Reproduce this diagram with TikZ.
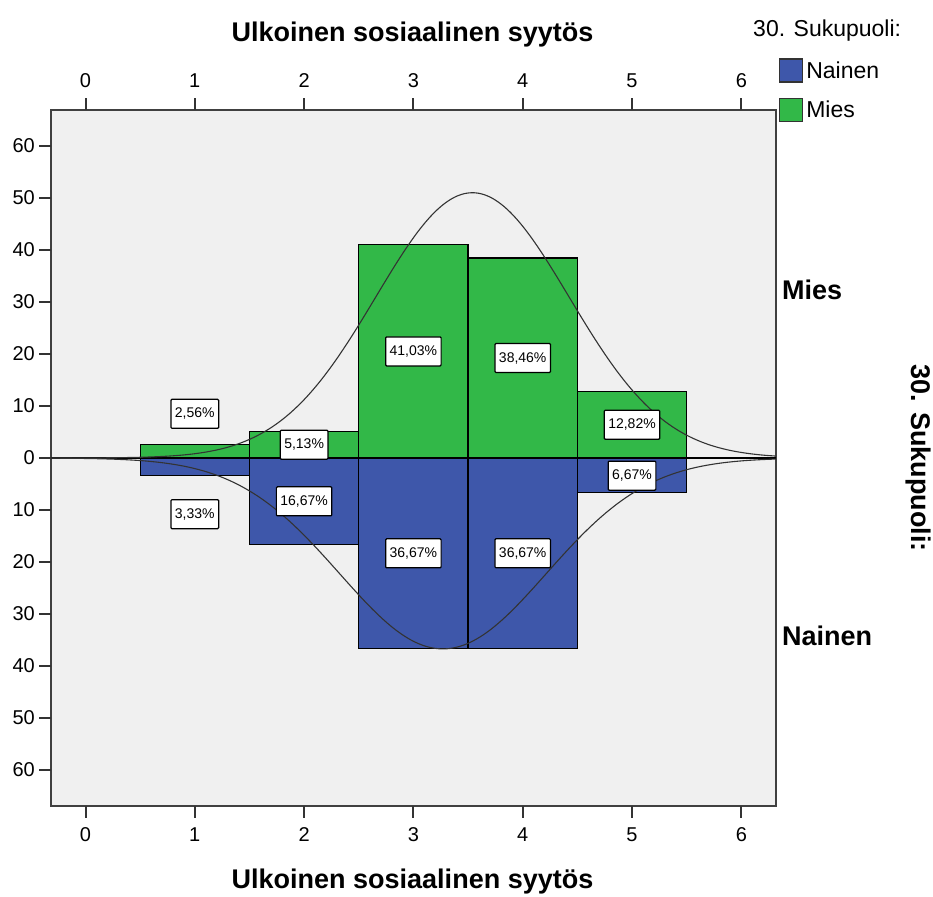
\documentclass[tikz,border=0pt]{standalone}
\usepackage{fontspec}
\setmainfont{Liberation Sans}
\usetikzlibrary{positioning}
\definecolor{miesgreen}{RGB}{50,184,72}
\definecolor{naisblue}{RGB}{62,87,170}
\definecolor{plotbg}{RGB}{240,240,240}
\tikzstyle{bar} = [draw, line width=1.3pt]
\tikzstyle{pct} = [draw, fill=white, rounded corners=1pt, line width=1.2pt,
inner xsep=4pt, inner ysep=0pt, minimum height=29pt, font=\fontsize{14}{14}\selectfont]
\tikzstyle{curve} = [draw, line width=1.1pt, black!80]

\begin{document}
\begin{tikzpicture}[x=1pt, y=-1pt,
	ticklab/.style={font=\fontsize{20}{20}\selectfont, inner sep=0pt},
	title/.style={font=\bfseries\fontsize{27}{27}\selectfont, inner sep=0pt},
	legend/.style={font=\fontsize{23}{23}\selectfont, inner sep=0pt},
	swatch/.style={draw=black!80, line width=1.2pt, minimum size=23pt, inner sep=0pt},
	axis/.style={line width=2pt, black!80}]
    \useasboundingbox (0,0) rectangle (933,896);
    %% Titles
    \node [title, anchor=base] (xtop) at (412.5,42) {Ulkoinen sosiaalinen syytös};
    \node [title, anchor=base] (xbot) at (412.5,888) {Ulkoinen sosiaalinen syytös};
    \node [title, rotate=-90] (gT) at (918,458) {30. Sukupuoli:};
    \node [title, anchor=base west] (gM) at (782,299) {Mies};
    \node [title, anchor=base west] (gN) at (782,645) {Nainen};
    %% Legend
    \node [legend, anchor=base west] (leg) at (753,37) {30. Sukupuoli:};
    \node [swatch, fill=naisblue] (sN) at (791,70.5) {};
    \node [legend, right=3pt of sN] (legN) {Nainen};
    \node [swatch, fill=miesgreen, below=15pt of sN] (sM) {};
    \node [legend, right=3pt of sM] (legM) {Mies};
    %% Frame and ticks
    \draw [fill=plotbg, draw=black!75, line width=2pt] (51,110) rectangle (776,806);
    \foreach \k in {0,...,6} {
        \draw [axis] ({85.5+109.3*\k},110) -- ++(0,-12);
        \draw [axis] ({85.5+109.3*\k},806) -- ++(0,12);
        \node [ticklab, anchor=base] (t\k) at ({85.5+109.3*\k},88) {\k};
        \node [ticklab, anchor=base] (b\k) at ({85.5+109.3*\k},841) {\k};
    }
    \draw [axis] (51,458) -- ++(-12,0);
    \node [ticklab, anchor=east] (y0) at (35,458) {0};
    \foreach \v in {10,20,...,60} {
        \draw [axis] (51,{458-5.2*\v}) -- ++(-12,0);
        \draw [axis] (51,{458+5.2*\v}) -- ++(-12,0);
        \node [ticklab, anchor=east] (yu\v) at (35,{458-5.2*\v}) {\v};
        \node [ticklab, anchor=east] (yd\v) at (35,{458+5.2*\v}) {\v};
    }
    \begin{scope}[shift={(85.5,458)}, x=109.3pt, y=5.2pt]
    %% Mies
    \draw [bar, fill=miesgreen] (0.5,0) rectangle (1.5,2.56);
    \draw [bar, fill=miesgreen] (1.5,0) rectangle (2.5,5.13);
    \draw [bar, fill=miesgreen] (2.5,0) rectangle (3.5,41.03);
    \draw [bar, fill=miesgreen] (3.5,0) rectangle (4.5,38.46);
    \draw [bar, fill=miesgreen] (4.5,0) rectangle (5.5,12.82);
    %% Nainen
    \draw [bar, fill=naisblue] (0.5,0) rectangle (1.5,-3.33);
    \draw [bar, fill=naisblue] (1.5,0) rectangle (2.5,-16.67);
    \draw [bar, fill=naisblue] (2.5,0) rectangle (3.5,-36.67);
    \draw [bar, fill=naisblue] (3.5,0) rectangle (4.5,-36.67);
    \draw [bar, fill=naisblue] (4.5,0) rectangle (5.5,-6.67);
    \draw [line width=2.5pt] (-0.316,0) -- (6.317,0);
    %% Normal curves
    \draw [curve] plot [domain=-0.316:6.317, samples=150, smooth]
        (\x, {51*exp(-(\x-3.54)*(\x-3.54)/(2*0.885*0.885))});
    \draw [curve] plot [domain=-0.316:6.317, samples=150, smooth]
        (\x, {-36.7*exp(-(\x-3.27)*(\x-3.27)/(2*0.944*0.944))});
    %% Percentages
    \node [pct] (M1) at (1,8.5) {2,56\%};
    \node [pct] (M2) at (2,2.56) {5,13\%};
    \node [pct] (M3) at (3,20.5) {41,03\%};
    \node [pct] (M4) at (4,19.23) {38,46\%};
    \node [pct] (M5) at (5,6.41) {12,82\%};
    \node [pct] (N1) at (1,-10.8) {3,33\%};
    \node [pct] (N2) at (2,-8.33) {16,67\%};
    \node [pct] (N3) at (3,-18.33) {36,67\%};
    \node [pct] (N4) at (4,-18.33) {36,67\%};
    \node [pct] (N5) at (5,-3.4) {6,67\%};
    \end{scope}
\end{tikzpicture}
\end{document}
